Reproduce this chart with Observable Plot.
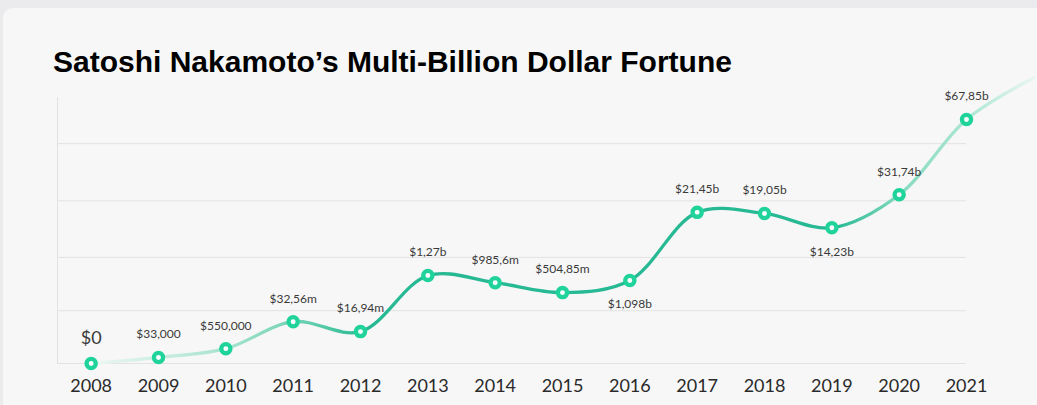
<!DOCTYPE html>
<html>
<head>
<meta charset="utf-8">
<script src="https://cdn.jsdelivr.net/npm/d3@7"></script>
<script src="https://cdn.jsdelivr.net/npm/@observablehq/plot@0.6"></script>
<style>
  html, body { margin: 0; padding: 0; }
  body { width: 1037px; height: 405px; overflow: hidden; background: #ebebed; position: relative; }
  #card { position: absolute; left: 3px; top: 8px; width: 1060px; height: 420px; background: #f7f7f7; border-radius: 10px; }
  #title { position: absolute; left: 53px; top: 47px; margin: 0; font-family: "Liberation Sans", Arial, Helvetica, sans-serif; font-weight: bold; font-size: 30px; line-height: 30px; color: #000; white-space: nowrap; }
  #chart { position: absolute; left: 0; top: 80px; }
  #chart svg { overflow: visible; background: transparent; }
</style>
</head>
<body>
<div id="card"></div>
<h2 id="title">Satoshi Nakamoto’s Multi-Billion Dollar Fortune</h2>
<div id="chart"></div>
<script>
// ---- data ----
const years = [2008, 2009, 2010, 2011, 2012, 2013, 2014, 2015, 2016, 2017, 2018, 2019, 2020, 2021];
const labels = ["$0", "$33,000", "$550,000", "$32,56m", "$16,94m", "$1,27b", "$985,6m", "$504,85m", "$1,098b", "$21,45b", "$19,05b", "$14,23b", "$31,74b", "$67,85b"];
// plotted level of each point (the chart's vertical scale is stylised, in grid steps)
const levels = [0, 0.11, 0.27, 0.76, 0.58, 1.6, 1.47, 1.29, 1.51, 2.75, 2.73, 2.47, 3.07, 4.44];
// label side relative to the point
const labelSide = ["above", "above", "above", "above", "above", "above", "above", "above", "below", "above", "above", "below", "above", "above"];
// curve continues past the last point (fading tail)
const tailYear = 2022;
const tailLevel = 5.2;
// unlabeled horizontal grid lines
const gridLevels = [0, 0.96, 1.93, 2.96, 4];
const xDomain = [2007.5, 2021];
const yDomain = [0, 4.84];

const points = years.map((year, i) => ({year, level: levels[i], label: labels[i], side: labelSide[i], big: i === 0}));
const lineData = [...points, {year: tailYear, level: tailLevel}];

const gradient = () => {
  const defs = d3.create("svg:defs");
  const g = defs.append("linearGradient").attr("id", "lineGrad");
  const stops = [
    [0.00, "#eef7f3"],
    [0.07, "#cdeee2"],
    [0.15, "#a3e2cd"],
    [0.22, "#6fd2b3"],
    [0.29, "#27b993"],
    [0.79, "#27b993"],
    [0.86, "#86dbc0"],
    [0.93, "#ace6d3"],
    [1.00, "#e8f6f0"]
  ];
  for (const [o, c] of stops) g.append("stop").attr("offset", o).attr("stop-color", c);
  return defs.node();
};

const chart = Plot.plot({
  width: 1037,
  height: 325,
  marginLeft: 57,
  marginRight: 71,
  marginTop: 17,
  marginBottom: 42,
  style: {background: "transparent", overflow: "visible"},
  x: {domain: xDomain},
  y: {domain: yDomain, axis: null},
  marks: [
    gradient,
    Plot.ruleY(gridLevels, {stroke: "#e3e3e3", strokeWidth: 1}),
    Plot.ruleX([xDomain[0]], {stroke: "#e3e3e3", strokeWidth: 1}),
    Plot.line(lineData, {x: "year", y: "level", curve: "catmull-rom", stroke: "url(#lineGrad)", strokeWidth: 3.3}),
    Plot.dot(points, {x: "year", y: "level", r: 4.6, fill: "white", stroke: "#1fd39b", strokeWidth: 4.3}),
    Plot.text(points.filter(d => d.side === "above" && !d.big), {x: "year", y: "level", text: "label", dy: -23, fontSize: 12, fontFamily: "Lato, sans-serif", fill: "#3a3a3a"}),
    Plot.text(points.filter(d => d.side === "below"), {x: "year", y: "level", text: "label", dy: 24, fontSize: 12, fontFamily: "Lato, sans-serif", fill: "#3a3a3a"}),
    Plot.text(points.filter(d => d.big), {x: "year", y: "level", text: "label", dy: -25, fontSize: 18, fontFamily: "Lato, sans-serif", fill: "#3a3a3a"}),
    Plot.axisX({ticks: years, tickFormat: d => String(d), tickSize: 0, tickPadding: 16, fontSize: 18, fontFamily: "Lato, sans-serif", fill: "#2a2a2a", label: null})
  ]
});
document.getElementById("chart").appendChild(chart);
</script>
</body>
</html>
